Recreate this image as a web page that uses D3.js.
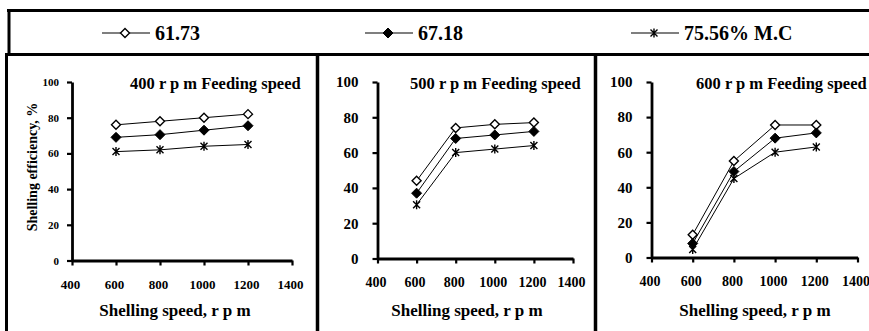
<!DOCTYPE html>
<html>
<head>
<meta charset="utf-8">
<script src="https://cdn.jsdelivr.net/npm/d3@7"></script>
<style>
  body { margin: 0; background: #fff; }
  svg text { font-weight: bold; fill: #000; }
</style>
</head>
<body>
<div id="chart"></div>
<script>
// data
const speeds = [600, 800, 1000, 1200];
const mcLabels = ["61.73", "67.18", "75.56% M.C"];
const feedTitles = ["400 r p m Feeding speed", "500 r p m Feeding speed", "600 r p m Feeding speed"];
const xTicks = [400, 600, 800, 1000, 1200, 1400];
const yTicks = [0, 20, 40, 60, 80, 100];

// one row per moisture content: 61.73, 67.18, 75.56
const feed400 = [[76, 78, 80, 82], [69, 70.5, 73, 75.5], [61, 62, 64, 65]];
const feed500 = [[44, 74, 76, 77], [37, 68, 70, 72], [30.5, 60, 62, 64]];
const feed600 = [[13, 55, 75.5, 75.5], [8, 49, 68, 71], [4.5, 45, 60, 63]];
const feedData = [feed400, feed500, feed600];

const xTitle = "Shelling speed, r p m";
const yTitle = "Shelling efficiency, %";

const FONT = "'Liberation Serif', 'Times New Roman', Times, 'DejaVu Serif', serif";

// layout of each panel (pixel positions)
const layout = [
  { left: 72, right: 292, bottom: 260.5, top: 82, yFont: 11, yPad: 8, titleX: 130, xTitleX: 175 },
  { left: 377.5, right: 573, bottom: 258.5, top: 82, yFont: 15, yPad: 14, titleX: 410, xTitleX: 467 },
  { left: 651.5, right: 857.5, bottom: 257.5, top: 82, yFont: 15, yPad: 14, titleX: 696, xTitleX: 755 }
];

const W = 869, H = 331;
const svg = d3.select("#chart").append("svg")
  .attr("width", W).attr("height", H)
  .style("font-family", FONT);

// marker shapes
const diamond = r => `M0,${-r}L${r},0L0,${r}L${-r},0Z`;
const star = r => `M${-r},${-r}L${r},${r}M${-r},${r}L${r},${-r}M0,${-r - 1}L0,${r + 1}`;

function drawMarker(g, i, cx, cy) {
  if (i === 0) {
    g.append("path").attr("d", diamond(4.5)).attr("transform", `translate(${cx},${cy})`)
      .attr("fill", "#fff").attr("stroke", "#000").attr("stroke-width", 1.4);
  } else if (i === 1) {
    g.append("path").attr("d", diamond(5)).attr("transform", `translate(${cx},${cy})`)
      .attr("fill", "#000").attr("stroke", "#000").attr("stroke-width", 1);
  } else {
    g.append("path").attr("d", star(3.5)).attr("transform", `translate(${cx},${cy})`)
      .attr("fill", "none").attr("stroke", "#000").attr("stroke-width", 1.4);
  }
}

// frame lines
const frame = svg.append("g").attr("stroke", "#000").attr("stroke-width", 3);
frame.append("line").attr("x1", 7).attr("x2", W).attr("y1", 10.5).attr("y2", 10.5);
frame.append("line").attr("x1", 9).attr("x2", 9).attr("y1", 9).attr("y2", 55);
frame.append("line").attr("x1", 5).attr("x2", W).attr("y1", 54.5).attr("y2", 54.5);
frame.append("line").attr("x1", 6.5).attr("x2", 6.5).attr("y1", 53).attr("y2", H);
frame.append("line").attr("x1", 317.5).attr("x2", 317.5).attr("y1", 53).attr("y2", H).attr("stroke-width", 3.5);
frame.append("line").attr("x1", 595.5).attr("x2", 595.5).attr("y1", 53).attr("y2", H).attr("stroke-width", 3.5);

// legend
const legendX = [102, 365, 631];
const legend = svg.append("g");
mcLabels.forEach((lab, i) => {
  const lx = legendX[i], ly = 33;
  legend.append("line").attr("x1", lx).attr("x2", lx + 48).attr("y1", ly).attr("y2", ly)
    .attr("stroke", "#000").attr("stroke-width", 1.2);
  drawMarker(legend, i, lx + 23, ly);
  legend.append("text").attr("x", lx + 53).attr("y", ly).attr("dy", "0.35em")
    .attr("font-size", 20).text(lab);
});

// panels
feedData.forEach((series, p) => {
  const L = layout[p];
  const x = d3.scaleLinear().domain([400, 1400]).range([L.left, L.right]);
  const y = d3.scaleLinear().domain([0, 100]).range([L.bottom, L.top]);
  const g = svg.append("g");

  const xAxis = g.append("g").attr("transform", `translate(0,${L.bottom})`)
    .call(d3.axisBottom(x).tickValues(xTicks).tickFormat(d3.format("d"))
      .tickSize(5).tickSizeOuter(0).tickPadding(14));
  const yAxis = g.append("g").attr("transform", `translate(${L.left},0)`)
    .call(d3.axisLeft(y).tickValues(yTicks).tickFormat(d3.format("d"))
      .tickSize(5).tickSizeOuter(0).tickPadding(L.yPad));

  [xAxis, yAxis].forEach(a => {
    a.attr("font-family", null);
    a.select(".domain").attr("stroke-width", 2.8);
    a.selectAll(".tick line").attr("stroke-width", 2.2);
  });
  xAxis.selectAll(".tick text").attr("font-size", p === 0 ? 13 : 14).attr("dx", -2);
  yAxis.selectAll(".tick text").attr("font-size", L.yFont);

  // series lines
  const line = d3.line().x((d, k) => x(speeds[k])).y(d => y(d));
  series.forEach(vals => {
    g.append("path").datum(vals).attr("d", line)
      .attr("fill", "none").attr("stroke", "#000").attr("stroke-width", 1);
  });
  series.forEach((vals, i) => {
    vals.forEach((v, k) => drawMarker(g, i, x(speeds[k]), y(v)));
  });

  g.append("text").attr("x", L.titleX).attr("y", 83).attr("dy", "0.35em")
    .attr("font-size", 16.5).text(feedTitles[p]);
  g.append("text").attr("x", L.xTitleX).attr("y", 310).attr("dy", "0.35em")
    .attr("text-anchor", "middle").attr("font-size", 17).text(xTitle);
  if (p === 0) {
    g.append("text").attr("transform", "translate(32,167) rotate(-90)")
      .attr("text-anchor", "middle").attr("dy", "0.35em").attr("font-size", 14).text(yTitle);
  }
});
</script>
</body>
</html>
